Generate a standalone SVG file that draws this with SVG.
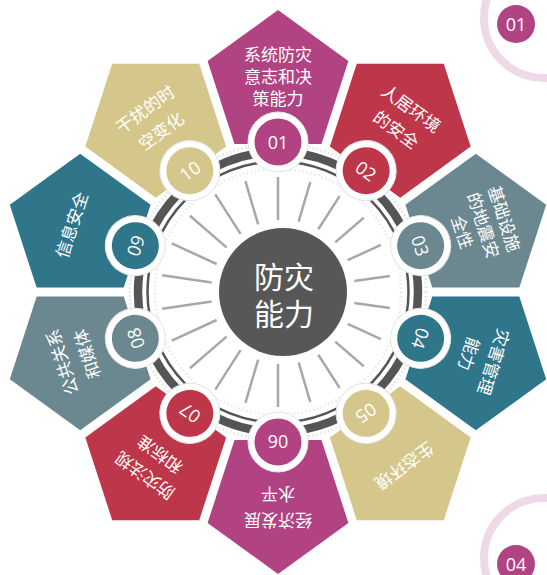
<svg xmlns="http://www.w3.org/2000/svg" xmlns:xlink="http://www.w3.org/1999/xlink" width="547" height="575" viewBox="0 0 547 575">
<style>
.mag{fill:#B14383}.red{fill:#BE3649}.sla{fill:#6B8891}.tea{fill:#2F768B}.kha{fill:#D5C78B}
.pt{font-family:"Noto Sans CJK SC","Noto Sans",sans-serif;font-size:17px;fill:#fff;text-anchor:middle;dominant-baseline:central}
.num{font-family:"Open Sans","Liberation Sans",sans-serif;font-size:18px;fill:#fff;text-anchor:middle;dominant-baseline:central}
.ring{fill:#fff;stroke:#e4e4e4;stroke-width:1}
.spk line{stroke:#a8a8a8;stroke-width:2.5}
.deco{fill:none;stroke:#EDDAE6;stroke-width:8}
</style>
<defs>
<path id="pent" d="M278,10 L348.4,61.1 L321.5,143.9 L234.5,143.9 L207.6,61.1 Z"/>
</defs>
<rect width="547" height="575" fill="#fff"/>
<g id="corner-top">
<circle class="deco" cx="544" cy="18" r="60"/>
<circle class="mag" cx="516" cy="24" r="19"/>
<text class="num" x="516" y="24" font-size="20">01</text>
</g>
<g id="corner-bottom">
<circle class="deco" cx="544" cy="558" r="60"/>
<circle class="mag" cx="516" cy="564" r="19"/>
<text class="num" x="516" y="564" font-size="20">04</text>
</g>
<g id="hub-ring">
<circle cx="278" cy="292" r="148" fill="none" stroke="#e6e6e6" stroke-width="3" stroke-dasharray="1.5 2.5"/>
<circle cx="278" cy="292" r="140" fill="none" stroke="#555" stroke-width="8.5"/>
<circle cx="278" cy="292" r="130.5" fill="none" stroke="#555" stroke-width="2.5"/>
<circle cx="278" cy="292" r="123" fill="none" stroke="#ececec" stroke-width="3" stroke-dasharray="1.5 2.5"/>
</g>
<g id="connectors" class="spk">
<line x1="278" y1="220.17" x2="278" y2="177.02"/>
<line x1="298.64" y1="221.72" x2="310.24" y2="182.21"/>
<line x1="318.32" y1="229.26" x2="339.58" y2="196.17"/>
<line x1="335.21" y1="242.43" x2="363.76" y2="217.69"/>
<line x1="347.61" y1="260.21" x2="380.95" y2="244.98"/>
<line x1="354.17" y1="281.05" x2="389.87" y2="275.92"/>
<line x1="354.17" y1="302.95" x2="389.87" y2="308.08"/>
<line x1="347.61" y1="323.79" x2="380.95" y2="339.02"/>
<line x1="335.21" y1="341.57" x2="363.76" y2="366.31"/>
<line x1="318.32" y1="354.74" x2="339.58" y2="387.83"/>
<line x1="298.64" y1="362.28" x2="310.24" y2="401.79"/>
<line x1="278" y1="363.83" x2="278" y2="406.98"/>
<line x1="258.16" y1="359.58" x2="245.45" y2="402.87"/>
<line x1="240.60" y1="350.19" x2="215.25" y2="389.65"/>
<line x1="226.50" y1="336.63" x2="189.96" y2="368.29"/>
<line x1="216.67" y1="320.01" x2="171.74" y2="340.53"/>
<line x1="211.63" y1="301.54" x2="162.21" y2="308.65"/>
<line x1="211.63" y1="282.46" x2="162.21" y2="275.35"/>
<line x1="216.67" y1="263.99" x2="171.74" y2="243.47"/>
<line x1="226.50" y1="247.37" x2="189.96" y2="215.71"/>
<line x1="240.60" y1="233.81" x2="215.25" y2="194.35"/>
<line x1="258.16" y1="224.42" x2="245.45" y2="181.13"/>
</g>
<g id="center">
<circle cx="283" cy="292" r="64" fill="#575757"/>
<text x="284" y="275" font-family="'Noto Sans CJK SC','Noto Sans',sans-serif" font-size="30" fill="#fff" text-anchor="middle" dominant-baseline="central">防灾</text>
<text x="284" y="311.5" font-family="'Noto Sans CJK SC','Noto Sans',sans-serif" font-size="30" fill="#fff" text-anchor="middle" dominant-baseline="central">能力</text>
</g>
<g id="p01" transform="rotate(0 278 292)">
<use xlink:href="#pent" class="mag"/>
<text class="pt" x="278" y="53">系统防灾</text><text class="pt" x="278" y="75">意志和决</text><text class="pt" x="278" y="97">策能力</text>
<circle class="ring" cx="278" cy="142" r="30"/><circle class="mag" cx="278" cy="142" r="23.5"/>
<text class="num" x="278" y="142">01</text>
</g>
<g id="p02" transform="rotate(36 278 292)">
<use xlink:href="#pent" class="red"/>
<text class="pt" x="278" y="64">人居环境</text><text class="pt" x="278" y="90">的安全</text>
<circle class="ring" cx="278" cy="142" r="30"/><circle class="red" cx="278" cy="142" r="23.5"/>
<text class="num" x="278" y="142">02</text>
</g>
<g id="p03" transform="rotate(72 278 292)">
<use xlink:href="#pent" class="sla"/>
<text class="pt" x="278" y="53">基础设施</text><text class="pt" x="278" y="75">的地震安</text><text class="pt" x="278" y="97">全性</text>
<circle class="ring" cx="278" cy="142" r="30"/><circle class="sla" cx="278" cy="142" r="23.5"/>
<text class="num" x="278" y="142">03</text>
</g>
<g id="p04" transform="rotate(108 278 292)">
<use xlink:href="#pent" class="tea"/>
<text class="pt" x="278" y="64">灾害管理</text><text class="pt" x="278" y="90">能力</text>
<circle class="ring" cx="278" cy="142" r="30"/><circle class="tea" cx="278" cy="142" r="23.5"/>
<text class="num" x="278" y="142">04</text>
</g>
<g id="p05" transform="rotate(144 278 292)">
<use xlink:href="#pent" class="kha"/>
<text class="pt" x="278" y="76">生态环境</text>
<circle class="ring" cx="278" cy="142" r="30"/><circle class="kha" cx="278" cy="142" r="23.5"/>
<text class="num" x="278" y="142">05</text>
</g>
<g id="p06" transform="rotate(180 278 292)">
<use xlink:href="#pent" class="mag"/>
<text class="pt" x="278" y="63">经济发展</text><text class="pt" x="278" y="89">水平</text>
<circle class="ring" cx="278" cy="142" r="30"/><circle class="mag" cx="278" cy="142" r="23.5"/>
<text class="num" x="278" y="142">06</text>
</g>
<g id="p07" transform="rotate(216 278 292)">
<use xlink:href="#pent" class="red"/>
<text class="pt" x="278" y="64">防灾法规</text><text class="pt" x="278" y="90">和标准</text>
<circle class="ring" cx="278" cy="142" r="30"/><circle class="red" cx="278" cy="142" r="23.5"/>
<text class="num" x="278" y="142">07</text>
</g>
<g id="p08" transform="rotate(252 278 292)">
<use xlink:href="#pent" class="sla"/>
<text class="pt" x="278" y="64">公共关系</text><text class="pt" x="278" y="90">和媒体</text>
<circle class="ring" cx="278" cy="142" r="30"/><circle class="sla" cx="278" cy="142" r="23.5"/>
<text class="num" x="278" y="142">08</text>
</g>
<g id="p09" transform="rotate(288 278 292)">
<use xlink:href="#pent" class="tea"/>
<text class="pt" x="278" y="74">信息安全</text>
<circle class="ring" cx="278" cy="142" r="30"/><circle class="tea" cx="278" cy="142" r="23.5"/>
<text class="num" x="278" y="142">09</text>
</g>
<g id="p10" transform="rotate(324 278 292)">
<use xlink:href="#pent" class="kha"/>
<text class="pt" x="278" y="65">干扰的时</text><text class="pt" x="278" y="92">空变化</text>
<circle class="ring" cx="278" cy="142" r="30"/><circle class="kha" cx="278" cy="142" r="23.5"/>
<text class="num" x="278" y="142">10</text>
</g>
</svg>
